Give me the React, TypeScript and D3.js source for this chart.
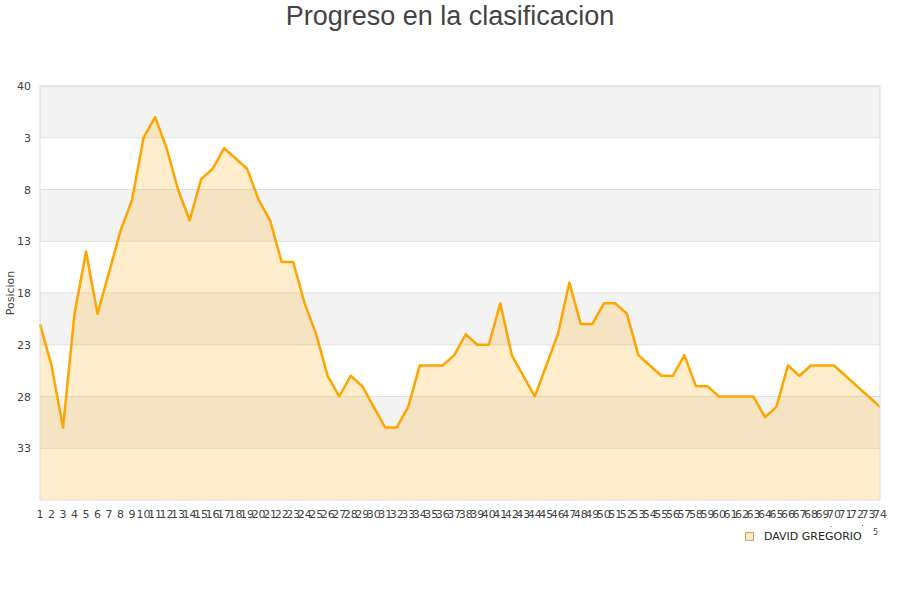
import * as d3 from "d3";

// ── Data — classification position per round ─────────────────
const ROUNDS = d3.range(1, 75);
const POSITIONS = [
  21, 25, 31, 20, 14, 20, 16, 12, 9, 3,
  1, 4, 8, 11, 7, 6, 4, 5, 6, 9,
  11, 15, 15, 19, 22, 26, 28, 26, 27, 29,
  31, 31, 29, 25, 25, 25, 24, 22, 23, 23,
  19, 24, 26, 28, 25, 22, 17, 21, 21, 19,
  19, 20, 24, 25, 26, 26, 24, 27, 27, 28,
  28, 28, 28, 30, 29, 25, 26, 25, 25, 25,
  26, 27, 28, 29,
];
const Y_TICKS = [-2, 3, 8, 13, 18, 23, 28, 33];
const Y_TICK_LABELS = ["40", "3", "8", "13", "18", "23", "28", "33"];
const Y_DOMAIN: [number, number] = [-2, 38];
const SERIES_NAME = "DAVID GREGORIO";

// ── Geometry ──────────────────────────────────────────────────
const W = 900;
const H = 600;
const PLOT = { left: 40, right: 880, top: 86, bottom: 500 };
const ORANGE = "#ffa500";
const FONT = "'DejaVu Sans', Verdana, sans-serif";

export default function App() {
  const x = d3.scaleLinear().domain([1, 74]).range([PLOT.left, PLOT.right]);
  const y = d3.scaleLinear().domain(Y_DOMAIN).range([PLOT.top, PLOT.bottom]);

  const pts = ROUNDS.map((r, i) => ({ r, p: POSITIONS[i] }));
  const line = d3.line<{ r: number; p: number }>().x((d) => x(d.r)).y((d) => y(d.p));
  const area = d3
    .area<{ r: number; p: number }>()
    .x((d) => x(d.r))
    .y0(y(Y_DOMAIN[1]))
    .y1((d) => y(d.p));

  // alternating bands between ticks, starting grey at the top
  const bandEdges = [...Y_TICKS, Y_DOMAIN[1]];

  return (
    <div style={{ position: "fixed", left: 0, top: 0 }}>
      <svg width={W} height={H} style={{ display: "block", background: "#fff" }}>
        <text x={450} y={25} textAnchor="middle" fontSize={27}
          fontFamily="'Liberation Sans', Arial, sans-serif" fill="#444">
          Progreso en la clasificacion
        </text>

        {/* Bands */}
        {bandEdges.slice(0, -1).map((t, i) => (
          <rect key={`b-${t}`} x={PLOT.left} width={PLOT.right - PLOT.left}
            y={y(t)} height={y(bandEdges[i + 1]) - y(t)}
            fill={i % 2 === 0 ? "#f3f3f3" : "#ffffff"} />
        ))}

        {/* Gridlines */}
        {Y_TICKS.map((t) => (
          <line key={`g-${t}`} x1={PLOT.left} x2={PLOT.right} y1={y(t)} y2={y(t)}
            stroke="#e0e0e0" strokeWidth={1} />
        ))}

        {/* Area + line */}
        <path d={area(pts) ?? ""} fill={ORANGE} fillOpacity={0.2} />
        <path d={line(pts) ?? ""} fill="none" stroke={ORANGE} strokeWidth={2.5}
          strokeLinejoin="round" />

        {/* Frame */}
        <rect x={PLOT.left} y={PLOT.top} width={PLOT.right - PLOT.left}
          height={PLOT.bottom - PLOT.top} fill="none" stroke="#dddddd" strokeWidth={1} />

        {/* Y tick labels */}
        {Y_TICKS.map((t, i) => (
          <text key={`yt-${t}`} x={31} y={y(t) + 4} textAnchor="end"
            fontSize={11} fontFamily={FONT} fill="#444">
            {Y_TICK_LABELS[i]}
          </text>
        ))}
        <text transform={`translate(14,293) rotate(-90)`} textAnchor="middle"
          fontSize={11} fontFamily={FONT} fill="#444">
          Posicion
        </text>

        {/* X tick labels */}
        {ROUNDS.map((r) => (
          <text key={`xt-${r}`} x={x(r)} y={518} textAnchor="middle"
            fontSize={11} fontFamily={FONT} fill="#444">
            {r}
          </text>
        ))}

        {/* Legend */}
        <rect x={745.5} y={532.5} width={8} height={8} fill="#fde9c4" stroke="#c8a56a" strokeWidth={1} />
        <text x={764} y={540} fontSize={11} fontFamily={FONT} fill="#222">
          {SERIES_NAME}
        </text>
        <text x={873} y={535} fontSize={8} fontFamily={FONT} fill="#444">5</text>
        <rect x={830.5} y={526} width={1} height={1} fill="#666" />
        <rect x={862} y={525} width={1} height={1} fill="#666" />
      </svg>
    </div>
  );
}
